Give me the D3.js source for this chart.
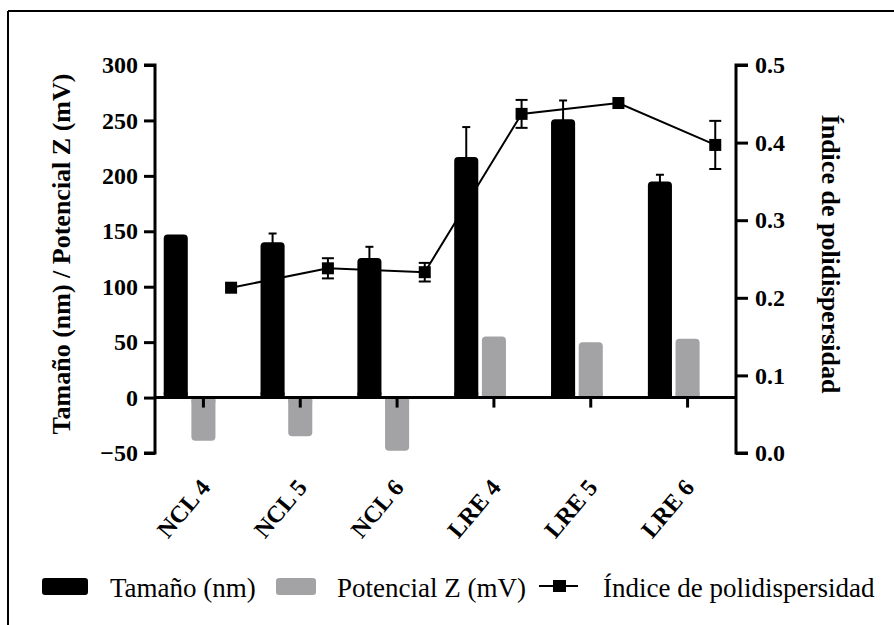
<!DOCTYPE html>
<html>
<head>
<meta charset="utf-8">
<script src="https://cdn.jsdelivr.net/npm/d3@7/dist/d3.min.js"></script>
<style>
  html, body { margin: 0; padding: 0; background: #fff; }
  svg { display: block; }
</style>
</head>
<body>
<svg id="chart" width="894" height="625"></svg>
<script>
// ---- data ----
const categories = ["NCL 4", "NCL 5", "NCL 6", "LRE 4", "LRE 5", "LRE 6"];
const sizeValues = [147, 140, 126, 217, 251, 195];
const sizeErrors = [0, 8, 10, 27, 17, 6];
const zetaValues = [-39, -35, -48, 55, 50, 53];
const pdiValues = [0.213, 0.238, 0.233, 0.437, 0.451, 0.397];
const pdiErrors = [0, 0.013, 0.012, 0.018, 0, 0.031];
const leftTicks = [-50, 0, 50, 100, 150, 200, 250, 300];
const rightTicks = [0.0, 0.1, 0.2, 0.3, 0.4, 0.5];
const seriesNames = ["Tamaño (nm)", "Potencial Z (mV)", "Índice de polidispersidad"];

const FONT = "'Liberation Serif', 'Times New Roman', Times, serif";
const BLACK = "#000";
const GRAY = "#a3a3a6";

const svg = d3.select("#chart");

// frame
svg.append("line").attr("x1", 8).attr("y1", 11).attr("x2", 894).attr("y2", 11)
  .attr("stroke", "#000").attr("stroke-width", 2);
svg.append("line").attr("x1", 8).attr("y1", 11).attr("x2", 8).attr("y2", 625)
  .attr("stroke", "#000").attr("stroke-width", 2);

const xL = 155, xR = 736, yTop = 65, yBot = 453;

const x0 = d3.scaleBand().domain(categories).range([xL, xR]).padding(0);
const x1 = d3.scaleBand().domain(["size", "zeta", "pdi"]).range([-39.7, 39.7]).paddingInner(0.13).paddingOuter(0);
const yL = d3.scaleLinear().domain([-50, 300]).range([yBot, yTop]);
const yR = d3.scaleLinear().domain([0, 0.5]).range([yBot, yTop]);

const cx = c => x0(c) + x0.bandwidth() / 2;

// bars
const g = svg.append("g");
function roundedBar(xc, v, fill) {
  const w = x1.bandwidth();
  const y0 = yL(0), y1 = yL(v);
  const top = Math.min(y0, y1), h = Math.abs(y1 - y0);
  g.append("rect").attr("x", xc - w / 2).attr("y", top).attr("width", w).attr("height", h)
    .attr("rx", 4).attr("fill", fill);
  const r = 5;
  g.append("rect").attr("x", xc - w / 2).attr("y", v >= 0 ? y0 - Math.min(r, h) : y0)
    .attr("width", w).attr("height", Math.min(r, h)).attr("fill", fill);
}
categories.forEach((c, i) => {
  const bx = cx(c) + x1("size") + x1.bandwidth() / 2;
  roundedBar(bx, sizeValues[i], BLACK);
  const zx = cx(c) + x1("zeta") + x1.bandwidth() / 2;
  roundedBar(zx, zetaValues[i], GRAY);
  if (sizeErrors[i] > 0) {
    const yt = yL(sizeValues[i] + sizeErrors[i]);
    g.append("line").attr("x1", bx).attr("x2", bx).attr("y1", yL(sizeValues[i]) + 2).attr("y2", yt)
      .attr("stroke", BLACK).attr("stroke-width", 2);
    g.append("line").attr("x1", bx - 4).attr("x2", bx + 4).attr("y1", yt).attr("y2", yt)
      .attr("stroke", BLACK).attr("stroke-width", 2);
  }
});

// axes
const axisG = svg.append("g");
const leftAxis = d3.axisLeft(yL).tickValues(leftTicks).tickSize(11).tickPadding(6).tickFormat(d3.format("d"));
const la = axisG.append("g").attr("transform", `translate(${xL},0)`).call(leftAxis);
const rightAxis = d3.axisRight(yR).tickValues(rightTicks).tickSize(12).tickPadding(7).tickFormat(d3.format(".1f"));
const ra = axisG.append("g").attr("transform", `translate(${xR},0)`).call(rightAxis);
const xAxis = d3.axisBottom(x0).tickSize(10).tickPadding(0).tickFormat("");
const xa = axisG.append("g").attr("transform", `translate(0,${yL(0)})`).call(xAxis);

[la, ra, xa].forEach(a => {
  a.select(".domain").attr("stroke", "#000").attr("stroke-width", 3);
  a.selectAll(".tick line").attr("stroke", "#000").attr("stroke-width", 3);
  a.selectAll("text").attr("font-family", FONT).attr("font-weight", "bold")
    .attr("font-size", 24).attr("fill", "#000");
});
la.select(".domain").attr("d", `M-11,${yTop}H0V${yBot}H-11`);
ra.select(".domain").attr("d", `M12,${yTop}H0V${yBot}H12`);
xa.select(".domain").attr("d", `M${xL},0H${xR}`);

// x labels
categories.forEach(c => {
  svg.append("text")
    .attr("transform", `translate(${cx(c) + 8},${488}) rotate(-50)`)
    .attr("text-anchor", "end")
    .attr("font-family", FONT).attr("font-weight", "bold").attr("font-size", 24)
    .text(c);
});

// pdi line
const px = c => cx(c) + x1("pdi") + x1.bandwidth() / 2;
const lineGen = d3.line().x((d, i) => px(categories[i])).y(d => yR(d));
svg.append("path").datum(pdiValues).attr("d", lineGen)
  .attr("fill", "none").attr("stroke", "#000").attr("stroke-width", 2);
categories.forEach((c, i) => {
  const xx = px(c);
  if (pdiErrors[i] > 0) {
    const ya = yR(pdiValues[i] + pdiErrors[i]), yb = yR(pdiValues[i] - pdiErrors[i]);
    svg.append("line").attr("x1", xx).attr("x2", xx).attr("y1", ya).attr("y2", yb)
      .attr("stroke", "#000").attr("stroke-width", 2);
    [ya, yb].forEach(yy => svg.append("line").attr("x1", xx - 6).attr("x2", xx + 6)
      .attr("y1", yy).attr("y2", yy).attr("stroke", "#000").attr("stroke-width", 2));
  }
  svg.append("rect").attr("x", xx - 6).attr("y", yR(pdiValues[i]) - 6)
    .attr("width", 12).attr("height", 12).attr("fill", "#000");
});

// axis titles
svg.append("text")
  .attr("transform", `translate(70,254) rotate(-90)`)
  .attr("text-anchor", "middle")
  .attr("font-family", FONT).attr("font-weight", "bold").attr("font-size", 26)
  .text("Tamaño (nm) / Potencial Z (mV)");
svg.append("text")
  .attr("transform", `translate(822,254) rotate(90)`)
  .attr("text-anchor", "middle")
  .attr("font-family", FONT).attr("font-weight", "bold").attr("font-size", 26)
  .text("Índice de polidispersidad");

// legend
const lg = svg.append("g");
const ly = 586.5;
lg.append("rect").attr("x", 42).attr("y", ly - 8.5).attr("width", 46).attr("height", 17).attr("rx", 3).attr("fill", BLACK);
lg.append("text").attr("x", 110).attr("y", 597).attr("font-family", FONT).attr("font-size", 27).text(seriesNames[0]);
lg.append("rect").attr("x", 276).attr("y", ly - 8.5).attr("width", 40).attr("height", 17).attr("rx", 3).attr("fill", GRAY);
lg.append("text").attr("x", 337).attr("y", 597).attr("font-family", FONT).attr("font-size", 27).text(seriesNames[1]);
lg.append("line").attr("x1", 539).attr("x2", 578).attr("y1", 586).attr("y2", 586).attr("stroke", "#000").attr("stroke-width", 2);
lg.append("rect").attr("x", 553).attr("y", 580).attr("width", 13).attr("height", 12).attr("fill", "#000");
lg.append("text").attr("x", 603).attr("y", 597).attr("font-family", FONT).attr("font-size", 27).text(seriesNames[2]);
</script>
</body>
</html>
